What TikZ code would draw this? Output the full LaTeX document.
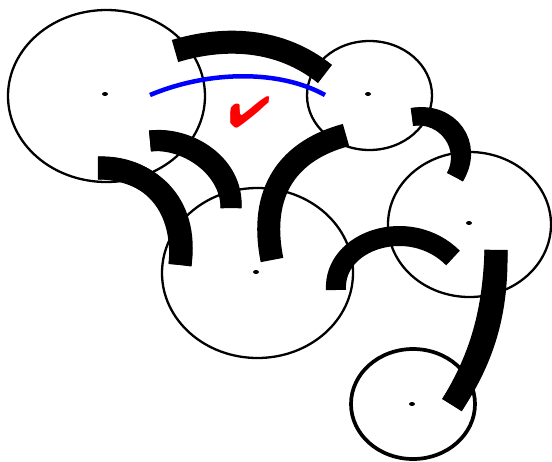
\documentclass[tikz,border=0pt]{standalone}
\usepackage{pifont}
\usetikzlibrary{shapes.geometric}
\tikzset{
  ring/.style={ellipse, draw=black, line width=2.3pt, inner sep=0pt},
  hub/.style={ellipse, fill=black, inner sep=0pt, minimum width=6pt, minimum height=4pt},
  band/.style={line width=23pt, line cap=butt, black},
  bluearc/.style={line width=4.5pt, line cap=butt, blue},
}
\begin{document}
\begin{tikzpicture}[x=1pt,y=-1pt]
\useasboundingbox (0,0) rectangle (552,461);
% rings
\node[ring, minimum width=197pt, minimum height=172pt] (e1) at (106.5,96) {};
\node[ring, minimum width=125pt, minimum height=109pt] (e2) at (369.5,95.5) {};
\node[ring, minimum width=191pt, minimum height=170pt] (e3) at (257.5,273) {};
\node[ring, minimum width=163pt, minimum height=145pt] (e4) at (469.5,224.5) {};
\node[ring, line width=3.7pt, minimum width=124pt, minimum height=110pt] (e5) at (413,404) {};
% hubs
\node[hub] (h1) at (105,94) {};
\node[hub] (h2) at (368,94) {};
\node[hub] (h3) at (256,272) {};
\node[hub] (h4) at (469,223) {};
\node[hub] (h5) at (412,404) {};
% band end points
\coordinate (a0) at (175,51);  \coordinate (a1) at (325,74);
\coordinate (b0) at (98,168);  \coordinate (b1) at (180,265);
\coordinate (c0) at (150,141); \coordinate (c1) at (231,208);
\coordinate (d0) at (346,135); \coordinate (d1) at (272,260);
\coordinate (f0) at (412,117); \coordinate (f1) at (455,177);
\coordinate (g0) at (336,290); \coordinate (g1) at (453,258);
\coordinate (k0) at (496,250); \coordinate (k1) at (452,405);
\coordinate (u0) at (150,95);  \coordinate (u1) at (325,95);
% bands
\draw[band] (a0) .. controls (225,36) and (280,38) .. (a1);
\draw[band] (b0) .. controls (145,166) and (186,200) .. (b1);
\draw[band, shift={(3,2)}] (b0) .. controls (145,166) and (186,200) .. (b1);
\draw[band, line width=21pt] (c0) .. controls (188,136) and (234,165) .. (c1);
\draw[band, line width=21pt, shift={(-3,1)}] (c0) .. controls (188,136) and (234,165) .. (c1);
\draw[band] (d0) .. controls (290,150) and (258,190) .. (d1);
\draw[band, line width=18pt] (f0) .. controls (450,110) and (475,145) .. (f1);
\draw[band, line width=18pt, shift={(-4,2)}] (f0) .. controls (450,110) and (475,145) .. (f1);
\draw[band, line width=20pt] (g0) .. controls (333,240) and (410,215) .. (g1);
\draw[band] (k0) .. controls (497,310) and (485,355) .. (k1);
\draw[band, shift={(-3,1)}] (k0) .. controls (497,310) and (485,355) .. (k1);
% blue arc
\draw[bluearc] (u0) .. controls (210,70) and (280,70) .. (u1);
% check
\node[red, scale=4.8, rotate=-6, inner sep=0pt] (ck) at (249,112) {\ding{52}};
\end{tikzpicture}
\end{document}
